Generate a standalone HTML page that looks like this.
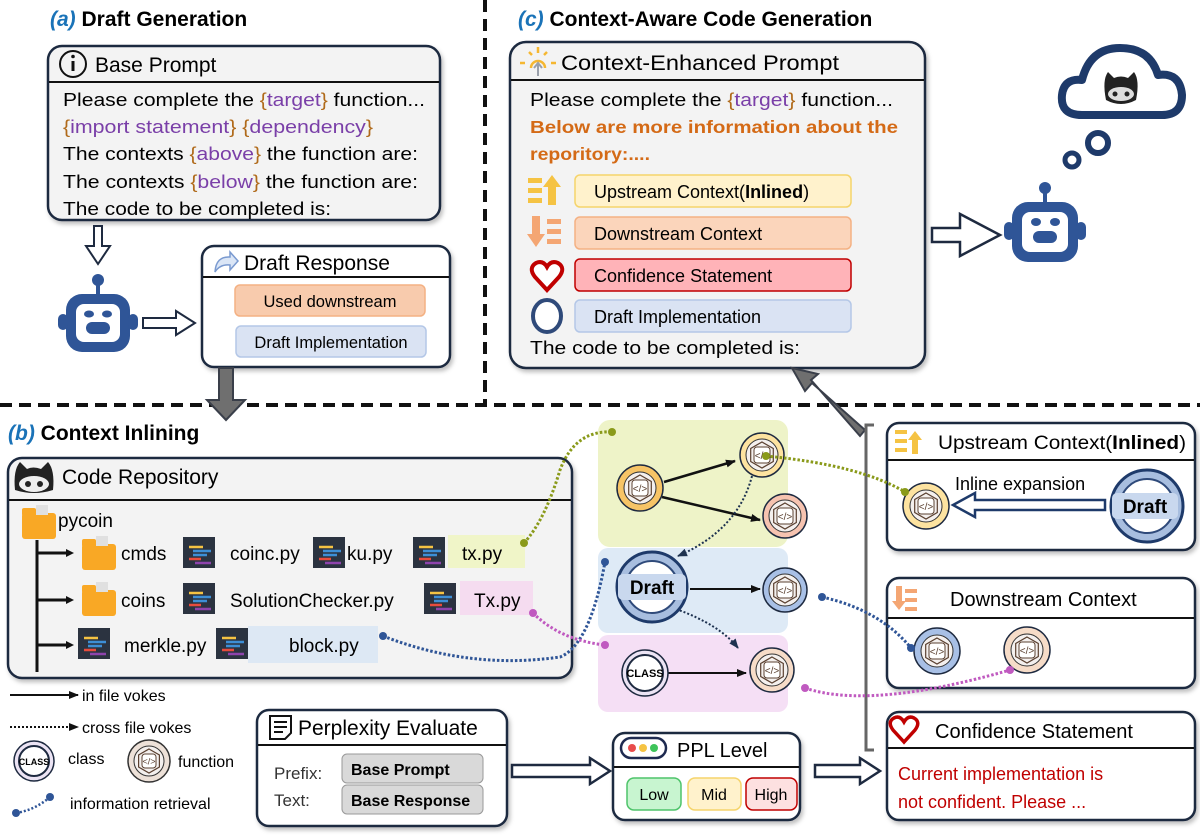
<!DOCTYPE html>
<html><head><meta charset="utf-8">
<style>
html,body{margin:0;padding:0;background:#fff;}
svg{display:block;}
text{font-family:"Liberation Sans",sans-serif;}
.b{font-weight:bold;}
</style></head>
<body>
<svg width="1200" height="835" viewBox="0 0 1200 835" xmlns="http://www.w3.org/2000/svg">
<defs>
<marker id="ah" markerUnits="userSpaceOnUse" markerWidth="10" markerHeight="10" refX="9" refY="5" orient="auto"><path d="M0,1 L10,5 L0,9 z" fill="#111"/></marker>
<marker id="ahn" markerUnits="userSpaceOnUse" markerWidth="10" markerHeight="10" refX="9" refY="5" orient="auto"><path d="M0,1 L10,5 L0,9 z" fill="#1e3250"/></marker>
<filter id="sh" x="-5%" y="-5%" width="110%" height="115%"><feDropShadow dx="2" dy="3" stdDeviation="2" flood-color="#000" flood-opacity="0.25"/></filter>
</defs>

<!-- dividers -->
<line x1="485" y1="0" x2="485" y2="405" stroke="#111" stroke-width="4" stroke-dasharray="12,7"/>
<line x1="0" y1="405" x2="1200" y2="405" stroke="#111" stroke-width="4" stroke-dasharray="12,7"/>

<!-- (a) -->
<text x="50" y="26" font-size="21" class="b"><tspan fill="#1a73b8" font-style="italic">(a)</tspan> Draft Generation</text>
<rect x="48" y="46" width="392" height="174" rx="14" fill="#f3f3f3" stroke="#1e2a40" stroke-width="2.5" filter="url(#sh)"/>
<line x1="49" y1="82" x2="439" y2="82" stroke="#111" stroke-width="2"/>
<circle cx="73" cy="64" r="13" fill="none" stroke="#111" stroke-width="2"/>
<rect x="71.5" y="61" width="3" height="10" fill="#111"/><circle cx="73" cy="56.5" r="1.8" fill="#111"/>
<text x="95" y="72" font-size="21">Base Prompt</text>
<g font-size="18.5">
<text x="63" y="106" textLength="362" lengthAdjust="spacingAndGlyphs">Please complete the <tspan fill="#b06a1a">{</tspan><tspan fill="#7a3fa8">target</tspan><tspan fill="#b06a1a">}</tspan> function...</text>
<text x="63" y="133" textLength="310" lengthAdjust="spacingAndGlyphs"><tspan fill="#b06a1a">{</tspan><tspan fill="#7a3fa8">import statement</tspan><tspan fill="#b06a1a">} {</tspan><tspan fill="#7a3fa8">dependency</tspan><tspan fill="#b06a1a">}</tspan></text>
<text x="63" y="160" textLength="355" lengthAdjust="spacingAndGlyphs">The contexts <tspan fill="#b06a1a">{</tspan><tspan fill="#7a3fa8">above</tspan><tspan fill="#b06a1a">}</tspan> the function are:</text>
<text x="63" y="188" textLength="355" lengthAdjust="spacingAndGlyphs">The contexts <tspan fill="#b06a1a">{</tspan><tspan fill="#7a3fa8">below</tspan><tspan fill="#b06a1a">}</tspan> the function are:</text>
<text x="63" y="215" textLength="268" lengthAdjust="spacingAndGlyphs">The code to be completed is:</text>
</g>
<path d="M94,226 H102 V246 H110 L98,264 L86,246 H94 Z" fill="#fff" stroke="#1e2a40" stroke-width="2"/>
<!-- robot a -->
<g fill="#2f5597">
<circle cx="98" cy="280" r="6"/><rect x="96" y="284" width="4" height="10"/>
<rect x="66" y="294" width="64" height="58" rx="16"/>
<rect x="58" y="314" width="10" height="16" rx="5"/><rect x="128" y="314" width="10" height="16" rx="5"/>
</g>
<rect x="76" y="304" width="44" height="38" rx="8" fill="#fff"/>
<ellipse cx="89" cy="314" rx="5" ry="3.5" fill="#2f5597"/><ellipse cx="107" cy="314" rx="5" ry="3.5" fill="#2f5597"/>
<rect x="86" y="322" width="24" height="12" rx="6" fill="#2f5597"/>
<path d="M143,318 H176 V311 L195,323 L176,335 V328 H143 Z" fill="#fff" stroke="#1e2a40" stroke-width="2"/>
<!-- Draft Response -->
<rect x="202" y="246" width="248" height="121" rx="12" fill="#fff" stroke="#1e2a40" stroke-width="2.5" filter="url(#sh)"/>
<line x1="203" y1="277" x2="449" y2="277" stroke="#111" stroke-width="2"/>
<path d="M215,272 Q216,256 230,257 V252 L238,261 L230,270 V265 Q220,264 215,272 Z" fill="#dbe6f6" stroke="#7a9ad0" stroke-width="1.5"/>
<text x="244" y="270" font-size="21">Draft Response</text>
<rect x="235" y="285" width="190" height="31" rx="5" fill="#f8cbad" stroke="#f4b183" stroke-width="1.5"/>
<text x="330" y="307" font-size="16.5" text-anchor="middle">Used downstream</text>
<rect x="236" y="326" width="190" height="31" rx="5" fill="#dae3f3" stroke="#b4c7e7" stroke-width="1.5"/>
<text x="331" y="348" font-size="16.5" text-anchor="middle">Draft Implementation</text>
<path d="M219,368 H233 V400 H245 L226,420 L207,400 H219 Z" fill="#6f6f6f" stroke="#3a3f4a" stroke-width="2"/>

<!-- (c) -->
<text x="518" y="26" font-size="21" class="b"><tspan fill="#1a73b8" font-style="italic">(c)</tspan> Context-Aware Code Generation</text>
<rect x="510" y="42" width="415" height="326" rx="16" fill="#f3f3f3" stroke="#1e2a40" stroke-width="2.5" filter="url(#sh)"/>
<line x1="511" y1="80" x2="924" y2="80" stroke="#111" stroke-width="2"/>
<g stroke="#f5b731" stroke-width="2.5"><line x1="520" y1="63" x2="525" y2="63"/><line x1="538" y1="47" x2="538" y2="53"/><line x1="529" y1="52" x2="532" y2="55"/><line x1="547" y1="52" x2="544" y2="55"/><line x1="551" y1="63" x2="556" y2="63"/></g>
<path d="M531,68 A7,7 0 0 1 545,68" fill="none" stroke="#f5b731" stroke-width="2.5"/>
<path d="M538,76 V64 M534,68 L538,63 L542,68" stroke="#9aa0aa" stroke-width="2" fill="none"/>
<text x="561" y="70" font-size="21" textLength="278" lengthAdjust="spacingAndGlyphs">Context-Enhanced Prompt</text>
<text x="530" y="106" font-size="18.5" textLength="363" lengthAdjust="spacingAndGlyphs">Please complete the <tspan fill="#b06a1a">{</tspan><tspan fill="#7a3fa8">target</tspan><tspan fill="#b06a1a">}</tspan> function...</text>
<text x="530" y="133" font-size="17.5" class="b" fill="#d46a16" textLength="368" lengthAdjust="spacingAndGlyphs">Below are more information about the</text>
<text x="530" y="160" font-size="17.5" class="b" fill="#d46a16" textLength="120" lengthAdjust="spacingAndGlyphs">reporitory:....</text>
<!-- rows -->
<g fill="#f5c343"><rect x="528" y="178" width="14" height="5"/><rect x="528" y="188" width="14" height="5"/><rect x="528" y="198" width="14" height="5"/><path d="M548,205 V187 H543 L552,175 L561,187 H556 V205 Z"/></g>
<rect x="575" y="175" width="276" height="32" rx="5" fill="#fff2cc" stroke="#f5d46b" stroke-width="1.5"/>
<text x="594" y="198" font-size="18">Upstream Context(<tspan class="b">Inlined</tspan>)</text>
<g fill="#f4a673"><rect x="547" y="219" width="14" height="5"/><rect x="547" y="229" width="14" height="5"/><rect x="547" y="239" width="14" height="5"/><path d="M532,216 V234 H527 L536,247 L545,234 H540 V216 Z"/></g>
<rect x="575" y="217" width="276" height="32" rx="5" fill="#fbd5bb" stroke="#f4b183" stroke-width="1.5"/>
<text x="594" y="240" font-size="18">Downstream Context</text>
<path d="M547,290 L535,277 Q528,268 536,263 Q543,260 547,267 Q551,260 558,263 Q566,268 559,277 Z" fill="#fff" stroke="#c00000" stroke-width="4"/>
<rect x="575" y="259" width="276" height="32" rx="5" fill="#ffb3b8" stroke="#c00000" stroke-width="1.5"/>
<text x="594" y="282" font-size="18">Confidence Statement</text>
<ellipse cx="547" cy="316" rx="14" ry="16" fill="#fff" stroke="#2f4a7a" stroke-width="4"/>
<rect x="575" y="300" width="276" height="32" rx="5" fill="#dae3f3" stroke="#b4c7e7" stroke-width="1.5"/>
<text x="594" y="323" font-size="18">Draft Implementation</text>
<text x="530" y="354" font-size="18.5" textLength="270" lengthAdjust="spacingAndGlyphs">The code to be completed is:</text>
<path d="M932,228 H960 V214 L1000,235 L960,256 V242 H932 Z" fill="#fff" stroke="#1e2a40" stroke-width="2.5"/>
<!-- robot c -->
<g fill="#2f5597">
<circle cx="1045" cy="188" r="6"/><rect x="1043" y="192" width="4" height="10"/>
<rect x="1012" y="202" width="66" height="60" rx="16"/>
<rect x="1004" y="222" width="10" height="18" rx="5"/><rect x="1076" y="222" width="10" height="18" rx="5"/>
</g>
<rect x="1022" y="212" width="46" height="40" rx="8" fill="#fff"/>
<ellipse cx="1036" cy="222" rx="5" ry="4" fill="#2f5597"/><ellipse cx="1055" cy="222" rx="5" ry="4" fill="#2f5597"/>
<rect x="1033" y="231" width="24" height="12" rx="6" fill="#2f5597"/>
<circle cx="1072" cy="160" r="7" fill="none" stroke="#1e3a6a" stroke-width="5"/>
<circle cx="1098" cy="143" r="10" fill="none" stroke="#1e3a6a" stroke-width="6"/>
<path d="M1082,115 Q1060,115 1062,95 Q1064,78 1082,80 Q1090,48 1120,48 Q1150,48 1158,75 Q1180,72 1182,95 Q1182,115 1162,115 Z" fill="#fff" stroke="#1e3a6a" stroke-width="8" stroke-linejoin="round"/>
<path d="M1106,100 Q1102,80 1108,72 L1114,78 Q1121,75 1128,78 L1134,72 Q1140,80 1136,100 Q1121,108 1106,100 Z" fill="#222"/>
<ellipse cx="1121" cy="94" rx="13" ry="7" fill="#ddd"/>
<circle cx="1115" cy="94" r="2.5" fill="#222"/><circle cx="1127" cy="94" r="2.5" fill="#222"/>
<path d="M865,430 L812,383 L805,391 L792,368 L818,374 L811,380 L860,436 Z" fill="#6f6f6f" stroke="#3a3f4a" stroke-width="2"/>

<!-- (b) -->
<text x="8" y="440" font-size="21" class="b"><tspan fill="#1a73b8" font-style="italic">(b)</tspan> Context Inlining</text>
<rect x="8" y="458" width="564" height="220" rx="14" fill="#f3f3f3" stroke="#1e2a40" stroke-width="2.5" filter="url(#sh)"/>
<line x1="9" y1="500" x2="571" y2="500" stroke="#111" stroke-width="2"/>
<path d="M15,490 Q13,470 20,462 L27,469 Q33,466 41,469 L48,462 Q55,470 53,490 Q34,496 15,490 Z" fill="#222"/>
<ellipse cx="34" cy="484" rx="15" ry="8" fill="#eee"/><circle cx="28" cy="484" r="3" fill="#222"/><circle cx="40" cy="484" r="3" fill="#222"/>
<text x="62" y="484" font-size="21">Code Repository</text>
<g fill="#f9a825">
<rect x="22" y="513" width="34" height="26" rx="3"/><rect x="22" y="508" width="14" height="8" rx="2"/>
<rect x="82" y="544" width="34" height="26" rx="3"/><rect x="82" y="539" width="14" height="8" rx="2"/>
<rect x="82" y="590" width="34" height="26" rx="3"/><rect x="82" y="585" width="14" height="8" rx="2"/>
</g>
<g fill="#e0e0e0"><rect x="36" y="505" width="12" height="10"/><rect x="96" y="536" width="12" height="10"/><rect x="96" y="582" width="12" height="10"/></g>
<text x="58" y="527" font-size="19">pycoin</text>
<line x1="37" y1="540" x2="37" y2="672" stroke="#111" stroke-width="3"/>
<g stroke="#111" stroke-width="3"><line x1="37" y1="553" x2="70" y2="553"/><line x1="37" y1="600" x2="70" y2="600"/><line x1="37" y1="645" x2="70" y2="645"/></g>
<g fill="#111"><path d="M66,549 L74,553 L66,557Z"/><path d="M66,596 L74,600 L66,604Z"/><path d="M66,641 L74,645 L66,649Z"/></g>
<g fill="#2b3340">
<rect x="183" y="537" width="32" height="31"/><rect x="313" y="537" width="32" height="31"/><rect x="413" y="537" width="32" height="31"/>
<rect x="183" y="583" width="32" height="31"/><rect x="424" y="583" width="32" height="31"/>
<rect x="78" y="628" width="32" height="31"/><rect x="216" y="628" width="32" height="31"/>
</g>
<g stroke-width="2.5">
<g transform="translate(183,537)"><line x1="6" y1="10" x2="20" y2="10" stroke="#f5c343"/><line x1="10" y1="14" x2="28" y2="14" stroke="#3d8fd6"/><line x1="10" y1="18" x2="24" y2="18" stroke="#3d8fd6"/><line x1="6" y1="22" x2="18" y2="22" stroke="#e84c3d"/><line x1="12" y1="26" x2="28" y2="26" stroke="#8e44ad"/></g>
<g transform="translate(313,537)"><line x1="6" y1="10" x2="20" y2="10" stroke="#f5c343"/><line x1="10" y1="14" x2="28" y2="14" stroke="#3d8fd6"/><line x1="10" y1="18" x2="24" y2="18" stroke="#3d8fd6"/><line x1="6" y1="22" x2="18" y2="22" stroke="#e84c3d"/><line x1="12" y1="26" x2="28" y2="26" stroke="#8e44ad"/></g>
<g transform="translate(413,537)"><line x1="6" y1="10" x2="20" y2="10" stroke="#f5c343"/><line x1="10" y1="14" x2="28" y2="14" stroke="#3d8fd6"/><line x1="10" y1="18" x2="24" y2="18" stroke="#3d8fd6"/><line x1="6" y1="22" x2="18" y2="22" stroke="#e84c3d"/><line x1="12" y1="26" x2="28" y2="26" stroke="#8e44ad"/></g>
<g transform="translate(183,583)"><line x1="6" y1="10" x2="20" y2="10" stroke="#f5c343"/><line x1="10" y1="14" x2="28" y2="14" stroke="#3d8fd6"/><line x1="10" y1="18" x2="24" y2="18" stroke="#3d8fd6"/><line x1="6" y1="22" x2="18" y2="22" stroke="#e84c3d"/><line x1="12" y1="26" x2="28" y2="26" stroke="#8e44ad"/></g>
<g transform="translate(424,583)"><line x1="6" y1="10" x2="20" y2="10" stroke="#f5c343"/><line x1="10" y1="14" x2="28" y2="14" stroke="#3d8fd6"/><line x1="10" y1="18" x2="24" y2="18" stroke="#3d8fd6"/><line x1="6" y1="22" x2="18" y2="22" stroke="#e84c3d"/><line x1="12" y1="26" x2="28" y2="26" stroke="#8e44ad"/></g>
<g transform="translate(78,628)"><line x1="6" y1="10" x2="20" y2="10" stroke="#f5c343"/><line x1="10" y1="14" x2="28" y2="14" stroke="#3d8fd6"/><line x1="10" y1="18" x2="24" y2="18" stroke="#3d8fd6"/><line x1="6" y1="22" x2="18" y2="22" stroke="#e84c3d"/><line x1="12" y1="26" x2="28" y2="26" stroke="#8e44ad"/></g>
<g transform="translate(216,628)"><line x1="6" y1="10" x2="20" y2="10" stroke="#f5c343"/><line x1="10" y1="14" x2="28" y2="14" stroke="#3d8fd6"/><line x1="10" y1="18" x2="24" y2="18" stroke="#3d8fd6"/><line x1="6" y1="22" x2="18" y2="22" stroke="#e84c3d"/><line x1="12" y1="26" x2="28" y2="26" stroke="#8e44ad"/></g>
</g>
<rect x="448" y="535" width="77" height="33" fill="#f0f5c8"/>
<rect x="460" y="581" width="73" height="34" fill="#f5dcf0"/>
<rect x="248" y="626" width="130" height="37" fill="#dde8f4"/>
<g font-size="19">
<text x="121" y="560">cmds</text><text x="230" y="560">coinc.py</text><text x="347" y="560">ku.py</text><text x="462" y="560">tx.py</text>
<text x="121" y="607">coins</text><text x="230" y="607">SolutionChecker.py</text><text x="474" y="607">Tx.py</text>
<text x="124" y="652">merkle.py</text><text x="289" y="652">block.py</text>
</g>

<!-- legend -->
<line x1="10" y1="695" x2="78" y2="695" stroke="#111" stroke-width="2" marker-end="url(#ah)"/>
<text x="82" y="701" font-size="16">in file vokes</text>
<line x1="10" y1="727" x2="78" y2="727" stroke="#111" stroke-width="2" stroke-dasharray="2,2" marker-end="url(#ah)"/>
<text x="82" y="733" font-size="16">cross file vokes</text>
<circle cx="34" cy="761" r="20" fill="#ece4f4" stroke="#1e2a40" stroke-width="1.5"/><circle cx="34" cy="761" r="15" fill="#fff" stroke="#1e2a40" stroke-width="2"/>
<text x="34" y="765" font-size="9" text-anchor="middle" class="b">CLASS</text>
<text x="68" y="764" font-size="16">class</text>
<g transform="translate(149,761)"><circle r="21" fill="#ede1d8" stroke="#333" stroke-width="1.5"/><circle r="15" fill="#f4f0ee" stroke="#333"/><polygon points="0,-12 10.4,-6 10.4,6 0,12 -10.4,6 -10.4,-6" fill="none" stroke="#5a4030" stroke-width="1.2"/><rect x="-7" y="-7" width="14" height="14" rx="3" fill="#fff" stroke="#5a4030"/><text y="3.5" font-size="9" text-anchor="middle" fill="#5a4030">&lt;/&gt;</text></g>
<text x="178" y="767" font-size="16">function</text>
<path d="M16,813 Q35,810 50,797" fill="none" stroke="#2f5597" stroke-width="2.5" stroke-dasharray="2,2"/><circle cx="16" cy="813" r="4" fill="#2f5597"/><circle cx="50" cy="797" r="4" fill="#2f5597"/>
<text x="70" y="809" font-size="16">information retrieval</text>

<!-- Perplexity -->
<rect x="257" y="710" width="250" height="116" rx="12" fill="#fff" stroke="#1e2a40" stroke-width="2.5" filter="url(#sh)"/>
<line x1="258" y1="745" x2="506" y2="745" stroke="#111" stroke-width="2"/>
<path d="M270,716 H291 V733 L285,739 H270 Z M274,722 H287 M274,727 H287 M274,732 H283" fill="none" stroke="#111" stroke-width="2"/>
<text x="298" y="735" font-size="21">Perplexity Evaluate</text>
<text x="274" y="779" font-size="17" fill="#333">Prefix:</text>
<text x="274" y="806" font-size="17" fill="#333">Text:</text>
<rect x="342" y="754" width="141" height="29" rx="5" fill="#d9d9d9" stroke="#999"/>
<text x="351" y="775" font-size="16" class="b">Base Prompt</text>
<rect x="342" y="785" width="141" height="29" rx="5" fill="#d9d9d9" stroke="#999"/>
<text x="351" y="806" font-size="16" class="b">Base Response</text>
<path d="M512,765 H590 V758 L610,771 L590,784 V777 H512 Z" fill="#fff" stroke="#1e2a40" stroke-width="2.5"/>

<!-- PPL -->
<rect x="613" y="733" width="187" height="87" rx="12" fill="#fff" stroke="#1e2a40" stroke-width="2.5" filter="url(#sh)"/>
<line x1="614" y1="767" x2="799" y2="767" stroke="#111" stroke-width="2"/>
<rect x="621" y="738" width="45" height="20" rx="10" fill="#fff" stroke="#1e2a50" stroke-width="2.5"/>
<circle cx="632" cy="748" r="4" fill="#e84c4c"/><circle cx="643" cy="748" r="4" fill="#f5c343"/><circle cx="654" cy="748" r="4" fill="#3ec45a"/>
<text x="677" y="757" font-size="20">PPL Level</text>
<rect x="627" y="778" width="54" height="32" rx="7" fill="#c8f5d0" stroke="#4ec46a" stroke-width="1.5"/><text x="654" y="800" font-size="16" text-anchor="middle">Low</text>
<rect x="688" y="778" width="53" height="32" rx="7" fill="#fff2cc" stroke="#f5d46b" stroke-width="1.5"/><text x="714" y="800" font-size="16" text-anchor="middle">Mid</text>
<rect x="746" y="778" width="51" height="32" rx="7" fill="#fde0e0" stroke="#c00000" stroke-width="1.5"/><text x="771" y="800" font-size="16" text-anchor="middle">High</text>
<path d="M815,765 H860 V758 L880,771 L860,784 V777 H815 Z" fill="#fff" stroke="#1e2a40" stroke-width="2.5"/>

<!-- graph regions -->
<rect x="598" y="420" width="190" height="127" rx="12" fill="#eef3c8"/>
<rect x="598" y="548" width="190" height="85" rx="10" fill="#deeaf6"/>
<rect x="598" y="635" width="190" height="77" rx="10" fill="#f5dff5"/>

<!-- graph edges -->
<line x1="664" y1="482" x2="735" y2="461" stroke="#111" stroke-width="2.5" marker-end="url(#ah)"/>
<line x1="662" y1="497" x2="760" y2="520" stroke="#111" stroke-width="2.5" marker-end="url(#ah)"/>
<path d="M752,476 Q738,530 678,556" fill="none" stroke="#1e3250" stroke-width="2" stroke-dasharray="2,2" marker-end="url(#ahn)"/>
<line x1="690" y1="589" x2="760" y2="589" stroke="#111" stroke-width="2" marker-end="url(#ah)"/>
<path d="M676,609 Q720,625 738,648" fill="none" stroke="#1e3250" stroke-width="2" stroke-dasharray="2,2" marker-end="url(#ahn)"/>
<line x1="668" y1="673" x2="746" y2="673" stroke="#111" stroke-width="2" marker-end="url(#ah)"/>

<!-- nodes -->
<g transform="translate(640,488)"><circle r="23" fill="#f7c466" stroke="#1e2a40" stroke-width="1.5"/><circle r="16" fill="#f4f0ee" stroke="#333"/><polygon points="0,-13 11.3,-6.5 11.3,6.5 0,13 -11.3,6.5 -11.3,-6.5" fill="none" stroke="#5a4030" stroke-width="1.2"/><rect x="-8" y="-8" width="16" height="16" rx="3" fill="#fff" stroke="#5a4030"/><text y="4" font-size="10" text-anchor="middle" fill="#5a4030">&lt;/&gt;</text></g>
<g transform="translate(762,455)"><circle r="22" fill="#fde3a0" stroke="#1e2a40" stroke-width="1.5"/><circle r="16" fill="#f4f0ee" stroke="#333"/><polygon points="0,-13 11.3,-6.5 11.3,6.5 0,13 -11.3,6.5 -11.3,-6.5" fill="none" stroke="#5a4030" stroke-width="1.2"/><rect x="-8" y="-8" width="16" height="16" rx="3" fill="#fff" stroke="#5a4030"/><text y="4" font-size="10" text-anchor="middle" fill="#5a4030">&lt;/&gt;</text></g>
<g transform="translate(785,516)"><circle r="22" fill="#f6c3b0" stroke="#1e2a40" stroke-width="1.5"/><circle r="16" fill="#f4f0ee" stroke="#333"/><polygon points="0,-13 11.3,-6.5 11.3,6.5 0,13 -11.3,6.5 -11.3,-6.5" fill="none" stroke="#5a4030" stroke-width="1.2"/><rect x="-8" y="-8" width="16" height="16" rx="3" fill="#fff" stroke="#5a4030"/><text y="4" font-size="10" text-anchor="middle" fill="#5a4030">&lt;/&gt;</text></g>
<g transform="translate(785,590)"><circle r="22" fill="#a8c0e6" stroke="#1e2a40" stroke-width="1.5"/><circle r="16" fill="#f4f0ee" stroke="#333"/><polygon points="0,-13 11.3,-6.5 11.3,6.5 0,13 -11.3,6.5 -11.3,-6.5" fill="none" stroke="#5a4030" stroke-width="1.2"/><rect x="-8" y="-8" width="16" height="16" rx="3" fill="#fff" stroke="#5a4030"/><text y="4" font-size="10" text-anchor="middle" fill="#5a4030">&lt;/&gt;</text></g>
<g transform="translate(772,670)"><circle r="22" fill="#f6dcc8" stroke="#1e2a40" stroke-width="1.5"/><circle r="16" fill="#f4f0ee" stroke="#333"/><polygon points="0,-13 11.3,-6.5 11.3,6.5 0,13 -11.3,6.5 -11.3,-6.5" fill="none" stroke="#5a4030" stroke-width="1.2"/><rect x="-8" y="-8" width="16" height="16" rx="3" fill="#fff" stroke="#5a4030"/><text y="4" font-size="10" text-anchor="middle" fill="#5a4030">&lt;/&gt;</text></g>
<circle cx="652" cy="587" r="35" fill="#a8bedf" stroke="#1e3a6a" stroke-width="3"/>
<circle cx="652" cy="587" r="26" fill="#fff" stroke="#2f4a7a" stroke-width="2"/>
<rect x="618" y="574" width="68" height="26" rx="5" fill="#c9d8ee"/>
<text x="652" y="594" font-size="19" class="b" text-anchor="middle">Draft</text>
<circle cx="645" cy="673" r="23" fill="#ece4f4" stroke="#1e2a40" stroke-width="1.5"/><circle cx="645" cy="673" r="18" fill="#fff" stroke="#1e2a40" stroke-width="2"/>
<text x="645" y="677" font-size="11" text-anchor="middle" class="b">CLASS</text>

<!-- right panels -->
<path d="M874,425 H866 V750 H874" fill="none" stroke="#666" stroke-width="3"/>
<rect x="887" y="423" width="308" height="127" rx="12" fill="#fff" stroke="#1e2a40" stroke-width="2.5" filter="url(#sh)"/>
<line x1="888" y1="460" x2="1194" y2="460" stroke="#111" stroke-width="2"/>
<g fill="#f5c343"><rect x="895" y="430" width="12" height="4"/><rect x="895" y="439" width="12" height="4"/><rect x="895" y="448" width="12" height="4"/><path d="M912,454 V440 H908 L915,431 L922,440 H918 V454 Z"/></g>
<text x="938" y="449" font-size="19" textLength="248" lengthAdjust="spacingAndGlyphs">Upstream Context(<tspan class="b">Inlined</tspan>)</text>
<text x="955" y="490" font-size="18">Inline expansion</text>
<path d="M1105,500 H975 V493 L953,505 L975,517 V510 H1105 Z" fill="#fff" stroke="#1e3a6a" stroke-width="2.5"/>
<g transform="translate(926,506)"><circle r="23" fill="#fde3a0" stroke="#1e2a40" stroke-width="1.5"/><circle r="16" fill="#f4f0ee" stroke="#333"/><polygon points="0,-13 11.3,-6.5 11.3,6.5 0,13 -11.3,6.5 -11.3,-6.5" fill="none" stroke="#5a4030" stroke-width="1.2"/><rect x="-8" y="-8" width="16" height="16" rx="3" fill="#fff" stroke="#5a4030"/><text y="4" font-size="10" text-anchor="middle" fill="#5a4030">&lt;/&gt;</text></g>
<circle cx="1147" cy="506" r="36" fill="#a8bedf" stroke="#1e3a6a" stroke-width="3"/>
<circle cx="1147" cy="506" r="27" fill="#fff" stroke="#2f4a7a" stroke-width="2"/>
<rect x="1112" y="493" width="66" height="26" rx="5" fill="#c9d8ee"/>
<text x="1145" y="513" font-size="19" class="b" text-anchor="middle">Draft</text>

<rect x="887" y="578" width="308" height="110" rx="12" fill="#fff" stroke="#1e2a40" stroke-width="2.5" filter="url(#sh)"/>
<line x1="888" y1="618" x2="1194" y2="618" stroke="#111" stroke-width="2"/>
<g fill="#f4a673"><rect x="905" y="589" width="12" height="4"/><rect x="905" y="598" width="12" height="4"/><rect x="905" y="607" width="12" height="4"/><path d="M896,586 V601 H892 L899,610 L906,601 H902 V586 Z"/></g>
<text x="950" y="606" font-size="20">Downstream Context</text>
<g transform="translate(937,651)"><circle r="23" fill="#a8c0e6" stroke="#1e2a40" stroke-width="1.5"/><circle r="16" fill="#f4f0ee" stroke="#333"/><polygon points="0,-13 11.3,-6.5 11.3,6.5 0,13 -11.3,6.5 -11.3,-6.5" fill="none" stroke="#5a4030" stroke-width="1.2"/><rect x="-8" y="-8" width="16" height="16" rx="3" fill="#fff" stroke="#5a4030"/><text y="4" font-size="10" text-anchor="middle" fill="#5a4030">&lt;/&gt;</text></g>
<g transform="translate(1027,650)"><circle r="23" fill="#f6dcc8" stroke="#1e2a40" stroke-width="1.5"/><circle r="16" fill="#f4f0ee" stroke="#333"/><polygon points="0,-13 11.3,-6.5 11.3,6.5 0,13 -11.3,6.5 -11.3,-6.5" fill="none" stroke="#5a4030" stroke-width="1.2"/><rect x="-8" y="-8" width="16" height="16" rx="3" fill="#fff" stroke="#5a4030"/><text y="4" font-size="10" text-anchor="middle" fill="#5a4030">&lt;/&gt;</text></g>

<rect x="887" y="712" width="308" height="108" rx="12" fill="#fff" stroke="#1e2a40" stroke-width="2.5" filter="url(#sh)"/>
<line x1="888" y1="748" x2="1194" y2="748" stroke="#111" stroke-width="2"/>
<path d="M904,742 L893,730 Q887,722 894,718 Q900,715 904,722 Q908,715 914,718 Q921,722 915,730 Z" fill="#fff" stroke="#c00000" stroke-width="3.5"/>
<text x="935" y="738" font-size="20">Confidence Statement</text>
<text x="898" y="780" font-size="18" fill="#c00000">Current implementation is</text>
<text x="898" y="808" font-size="18" fill="#c00000">not confident. Please ...</text>

<!-- retrieval curves -->
<g fill="none" stroke-width="3" stroke-dasharray="2.5,2">
<path d="M524,543 Q545,520 560,470 Q575,430 612,432" stroke="#8a9a1a"/>
<path d="M766,456 Q860,465 905,492" stroke="#8a9a1a"/>
<path d="M383,636 Q470,670 560,657 Q590,645 605,562" stroke="#2f5597"/>
<path d="M822,597 Q880,610 911,648" stroke="#2f5597"/>
<path d="M533,613 Q560,640 605,645" stroke="#c05ac0"/>
<path d="M805,688 Q870,710 1010,670" stroke="#c05ac0"/>
</g>
<g>
<circle cx="524" cy="543" r="4" fill="#8a9a1a"/><circle cx="612" cy="432" r="4" fill="#8a9a1a"/>
<circle cx="766" cy="456" r="4" fill="#8a9a1a"/><circle cx="905" cy="492" r="4" fill="#8a9a1a"/>
<circle cx="383" cy="636" r="4" fill="#2f5597"/><circle cx="605" cy="562" r="4" fill="#2f5597"/>
<circle cx="822" cy="597" r="4" fill="#2f5597"/><circle cx="911" cy="648" r="4" fill="#2f5597"/>
<circle cx="533" cy="613" r="4" fill="#c05ac0"/><circle cx="605" cy="645" r="4" fill="#c05ac0"/>
<circle cx="805" cy="688" r="4" fill="#c05ac0"/><circle cx="1010" cy="670" r="4" fill="#c05ac0"/>
</g>
</svg>
</body></html>
